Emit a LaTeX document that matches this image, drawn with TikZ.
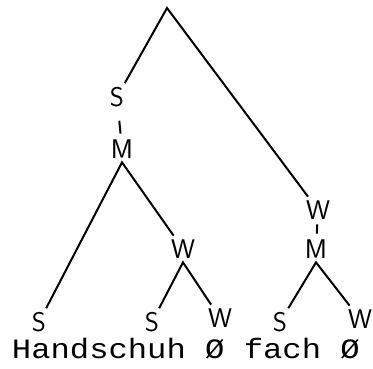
\documentclass[tikz,border=0pt]{standalone}
\usepackage{fontspec}
\newfontfamily\wordfont{Liberation Mono}[FakeStretch=1.15]

\begin{document}
\begin{tikzpicture}[
  x=1pt, y=-1pt,
  line width=2pt,
  % Estilos de etiquetas
  lab/.style={font=\sffamily\fontsize{27}{27}\selectfont, inner sep=3pt},
  word/.style={font=\wordfont\fontsize{28}{28}\selectfont, inner sep=0pt, anchor=base west},
  % Estilos de ramas
  branch/.style={draw, line join=miter},
  tick/.style={draw, shorten <=1pt, shorten >=2pt}
]
  \useasboundingbox (0,0) rectangle (373,368);

  % Raiz
  \coordinate (root) at (167,8);

  % ==========================================
  % LEFT CONSTITUENT: Handschuh
  % ==========================================
  \node[lab] (s_top) at (117,97) {S};
  \node[lab] (m_left) at (122,149) {M};
  \node[lab] (s_hand) at (39,322) {S};
  \node[lab] (w_mid) at (183,249) {W};
  \node[lab] (s_schuh) at (152,322) {S};
  \node[lab] (w_schuh) at (220,318) {W};

  % ==========================================
  % RIGHT CONSTITUENT: fach
  % ==========================================
  \node[lab] (w_top) at (318,210) {W};
  \node[lab] (m_right) at (316,249) {M};
  \node[lab] (s_fach) at (280,322) {S};
  \node[lab] (w_fach) at (360,319) {W};

  % Conexiones
  \draw[branch] (s_top) -- (root) -- (w_top);
  \draw[tick, shorten <=10pt, shorten >=2pt] (s_top) -- (m_left);
  \draw[tick] (w_top) -- (m_right);
  \draw[branch] (s_hand) -- (m_left.south) -- (w_mid);
  \draw[branch] (s_schuh) -- (w_mid.south) -- (w_schuh);
  \draw[branch] (s_fach) -- (m_right.south) -- (w_fach);

  % Texto
  \node[word] (words) at (11,358) {Handschuh Ø fach Ø};

\end{tikzpicture}
\end{document}
